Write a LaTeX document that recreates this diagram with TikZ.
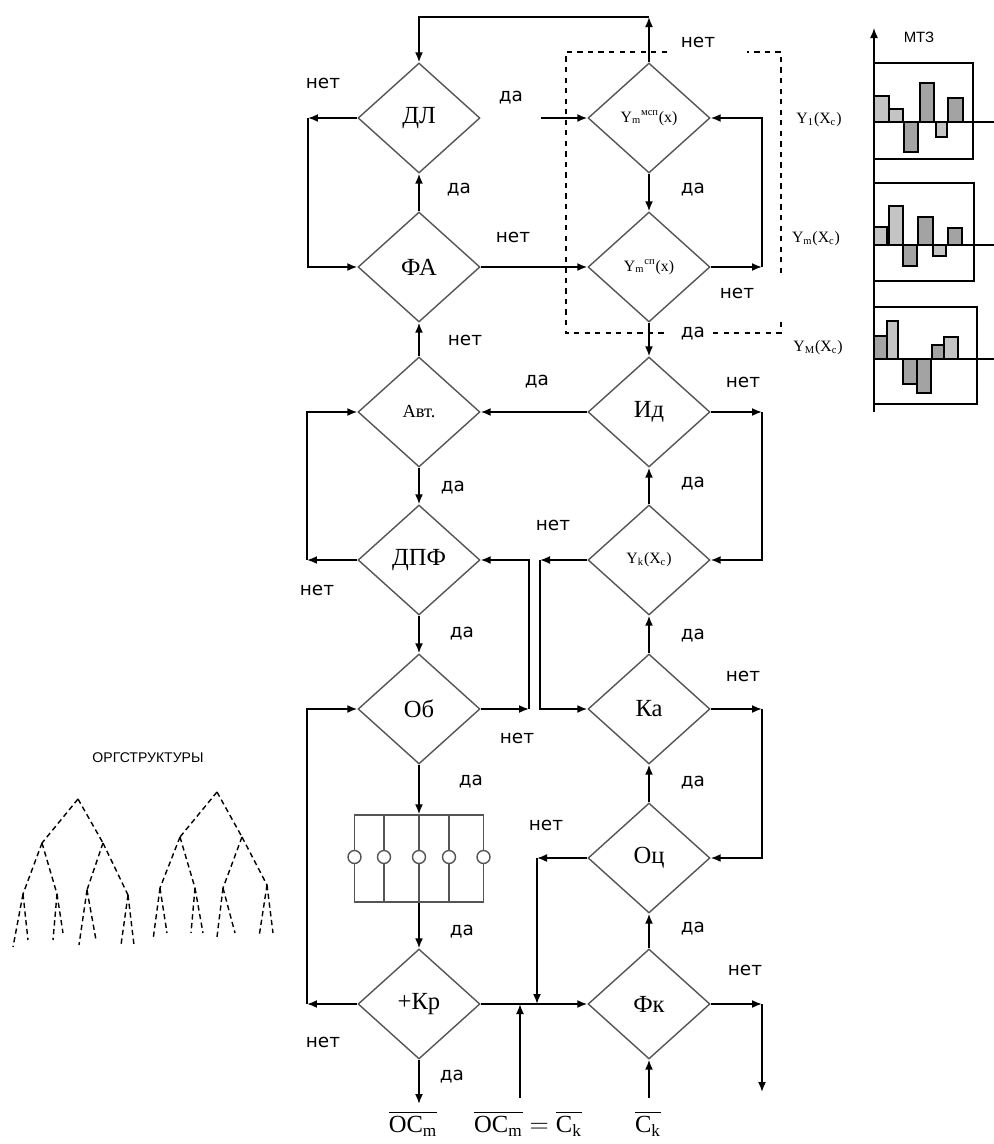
\documentclass[tikz,border=0pt]{standalone}
\usepackage{amsmath}
\usepackage{fontspec}
\setmainfont{Liberation Serif}
\newfontfamily\fcsans{DejaVu Sans}
\newfontfamily\fcnarrow{Liberation Sans}
\usetikzlibrary{arrows.meta,shapes.geometric}
\definecolor{fcInk}{HTML}{000000}
\definecolor{fcShape}{HTML}{555555}
\definecolor{fcBarLight}{HTML}{C4C4C4}
\definecolor{fcBarDark}{HTML}{A3A3A3}

\begin{document}
\begin{tikzpicture}[x=0.02cm,y=-0.02cm,
  fcdec/.style={diamond,draw=fcShape,line width=0.8pt,minimum width=2.44cm,
    minimum height=2.2cm,inner sep=0pt,font=\fontsize{14}{16}\selectfont},
  fcsmall/.style={font=\fontsize{9}{10}\selectfont},
  fcarrow/.style={draw=fcInk,line width=1pt,-{Latex[length=2mm,width=1.6mm]}},
  fclabel/.style={font=\fcsans\fontsize{10.5}{12}\selectfont,inner sep=0pt},
  fcio/.style={font=\fontsize{14}{16}\selectfont,inner sep=1pt},
  fccontact/.style={circle,draw=fcShape,fill=white,line width=0.8pt,
    minimum size=0.26cm,inner sep=0pt},
  fcbar/.style={draw=fcInk,line width=0.8pt},
  fctree/.style={draw=fcInk,line width=0.8pt,densely dashed},
  fcgroup/.style={draw=fcInk,line width=0.7pt,dashed}]
  \path[use as bounding box] (0,0) rectangle (994,1144);

  % decision blocks, left column
  \node[fcdec] (dl) at (419,118) {ДЛ};
  \node[fcdec] (fa) at (419,267) {ФА};
  \node[fcdec,font=\fontsize{10.5}{12}\selectfont] (avt) at (419,412) {Авт.};
  \node[fcdec] (dpf) at (419,560) {ДПФ};
  \node[fcdec] (ob) at (419,709) {Об};
  \node[fcdec] (kr) at (419,1004) {+Кр};
  % decision blocks, right column
  \node[fcdec,fcsmall] (ysp) at (649,118) {Y\textsubscript{m}\textsuperscript{мсп}(x)};
  \node[fcdec,fcsmall] (ysp2) at (649,267) {Y\textsubscript{m}\textsuperscript{сп}(x)};
  \node[fcdec] (id) at (649,412) {Ид};
  \node[fcdec,fcsmall] (yk) at (649,560) {Y\textsubscript{k}(X\textsubscript{c})};
  \node[fcdec] (ka) at (649,709) {Ка};
  \node[fcdec] (oc) at (649,858) {Оц};
  \node[fcdec] (fk) at (649,1004) {Фк};

  % contact block
  \node[draw=fcShape,line width=0.8pt,minimum width=2.58cm,minimum height=1.74cm,
    inner sep=0pt] (box) at (419,858.5) {};
  \foreach \x in {384,419,449}
    {\draw[fcShape,line width=0.8pt] (\x,815) -- (\x,902);}
  \foreach \x [count=\i] in {354.5,384,419,449,483.5}
    {\node[fccontact] (k\i) at (\x,857) {};}

  % dashed group round the two Y blocks
  \draw[fcgroup] (667,52) -- (566,52) -- (566,333) -- (667,333);
  \draw[fcgroup] (713,333) -- (781,333) -- (781,317);
  \draw[fcgroup] (781,273) -- (781,52) -- (747,52);

  % connectors
  \coordinate (topR) at (649,17);
  \draw[fcarrow] (ysp.north) -- (topR);
  \draw[fcarrow] (topR) -| (dl.north);
  \coordinate (dlda) at (541,118);
  \draw[fcarrow] (dlda) -- (ysp.west);
  \coordinate (dlno) at (308,118);
  \draw[fcarrow] (dl.west) -- (dlno);
  \draw[fcarrow] (dlno) |- (fa.west);
  \draw[fcarrow] (fa.north) -- (dl.south);
  \draw[fcarrow] (fa.east) -- (ysp2.west);
  \draw[fcarrow] (ysp.south) -- (ysp2.north);
  \coordinate (spno) at (762,267);
  \draw[fcarrow] (ysp2.east) -- (spno);
  \draw[fcarrow] (spno) |- (ysp.east);
  \draw[fcarrow] (ysp2.south) -- (id.north);
  \draw[fcarrow] (avt.north) -- (fa.south);
  \draw[fcarrow] (id.west) -- (avt.east);
  \coordinate (idno) at (762,412);
  \draw[fcarrow] (id.east) -- (idno);
  \draw[fcarrow] (idno) |- (yk.east);
  \coordinate (dpfno) at (307,560);
  \draw[fcarrow] (dpf.west) -- (dpfno);
  \draw[fcarrow] (dpfno) |- (avt.west);
  \draw[fcarrow] (avt.south) -- (dpf.north);
  \draw[fcarrow] (yk.north) -- (id.south);
  \coordinate (ykno) at (540,560);
  \draw[fcarrow] (yk.west) -- (ykno);
  \draw[fcarrow] (ykno) |- (ka.west);
  \coordinate (obno) at (529,709);
  \draw[fcarrow] (ob.east) -- (obno);
  \draw[fcarrow] (obno) |- (dpf.east);
  \draw[fcarrow] (dpf.south) -- (ob.north);
  \draw[fcarrow] (ka.north) -- (yk.south);
  \coordinate (kano) at (762,709);
  \draw[fcarrow] (ka.east) -- (kano);
  \draw[fcarrow] (kano) |- (oc.east);
  \coordinate (krno) at (307,1004);
  \draw[fcarrow] (kr.west) -- (krno);
  \draw[fcarrow] (krno) |- (ob.west);
  \draw[fcarrow] (ob.south) -- (box.north);
  \draw[fcarrow] (box.south) -- (kr.north);
  \coordinate (krout) at (419,1104);
  \draw[fcarrow] (kr.south) -- (krout);
  \draw[fcarrow] (kr.east) -- (fk.west);
  \coordinate (ocmin) at (520,1098);
  \draw[fcarrow] (ocmin) -- (ocmin |- kr.east);
  \coordinate (ocno) at (537,858);
  \draw[fcarrow] (oc.west) -- (ocno);
  \draw[fcarrow] (ocno) -- (ocno |- fk.west);
  \draw[fcarrow] (oc.north) -- (ka.south);
  \draw[fcarrow] (fk.north) -- (oc.south);
  \coordinate (ckin) at (649,1098);
  \draw[fcarrow] (ckin) -- (fk.south);
  \coordinate (fkno) at (762,1004);
  \coordinate (fkout) at (762,1092);
  \draw[fcarrow] (fk.east) -- (fkno);
  \draw[fcarrow] (fkno) -- (fkout);

  % yes / no labels
  \foreach \x/\y/\t [count=\i] in {323/83/нет,511/98/да,459/190/да,513/237/нет,
      698/42/нет,693/190/да,737/293/нет,693/334/да,465/340/нет,537/382/да,
      743/382/нет,453/488/да,693/484/да,553/525/нет,317/590/нет,462/634/да,
      693/636/да,517/738/нет,743/676/нет,471/782/да,693/783/да,546/825/нет,
      462/932/да,693/929/да,745/970/нет,323/1042/нет,452/1077/да}
    {\node[fclabel] (lab\i) at (\x,\y) {\t};}

  % inputs and outputs
  \node[fcio] (outm) at (413,1124) {$\overline{\text{OC}_{\text{m}}}$};
  \node[fcio] (eqmk) at (528,1124)
    {$\overline{\text{OC}_{\text{m}}}=\overline{\text{C}_{\text{k}}}$};
  \node[fcio] (ink) at (648,1124) {$\overline{\text{C}_{\text{k}}}$};

  % MTZ charts
  \coordinate (mtzbot) at (874,412);
  \coordinate (mtztop) at (874,28);
  \draw[fcarrow,line width=0.8pt] (mtzbot) -- (mtztop);
  \node[font=\fcnarrow\fontsize{8.5}{10}\selectfont] (mtz) at (919,37) {МТЗ};
  \draw[fcbar] (874,63) rectangle (973,159);
  \draw[fcbar] (874,183) rectangle (974,281);
  \draw[fcbar] (874,307) rectangle (977,404);
  \foreach \a/\b/\h/\c in {874/889/96/fcBarLight,889/903/109/fcBarLight,
      904/918/152/fcBarDark,920/934/83/fcBarDark,936/947/137/fcBarLight,
      948/963/98/fcBarDark}
    {\draw[fcbar,fill=\c] (\a,122) rectangle (\b,\h);}
  \foreach \a/\b/\h/\c in {874/887/227/fcBarLight,889/903/206/fcBarLight,
      903/917/266/fcBarDark,918/933/217/fcBarDark,933/946/256/fcBarLight,
      948/962/228/fcBarDark}
    {\draw[fcbar,fill=\c] (\a,245) rectangle (\b,\h);}
  \foreach \a/\b/\h/\c in {874/887/336/fcBarDark,887/898/321/fcBarLight,
      903/917/384/fcBarDark,917/931/393/fcBarDark,932/944/345/fcBarDark,
      944/958/337/fcBarLight}
    {\draw[fcbar,fill=\c] (\a,359) rectangle (\b,\h);}
  \foreach \y in {122,245,359}
    {\draw[fcbar] (874,\y) -- (994,\y);}
  \node[fcsmall] (ym1) at (819,120) {Y\textsubscript{1}(X\textsubscript{c})};
  \node[fcsmall] (ymm) at (816,239) {Y\textsubscript{m}(X\textsubscript{c})};
  \node[fcsmall] (ymM) at (818,348) {Y\textsubscript{M}(X\textsubscript{c})};

  % org structures
  \node[font=\fcnarrow\fontsize{8}{10}\selectfont] (org) at (148,758) {ОРГСТРУКТУРЫ};
  \foreach \ax/\ay/\bx/\by in {78/799/42/843,78/799/103/843,42/843/23/894,
      42/843/57/894,103/843/87/890,103/843/128/895,23/894/13/947,23/894/28/940,
      57/894/53/940,57/894/63/933,87/890/79/945,87/890/96/940,128/895/121/945,
      128/895/134/945,217/792/180/837,217/792/242/837,180/837/160/888,
      180/837/195/888,242/837/223/888,242/837/267/885,160/888/153/940,
      160/888/167/933,195/888/191/933,195/888/203/933,223/888/217/937,
      223/888/235/933,267/885/259/937,267/885/273/933}
    {\draw[fctree] (\ax,\ay) -- (\bx,\by);}
\end{tikzpicture}
\end{document}
